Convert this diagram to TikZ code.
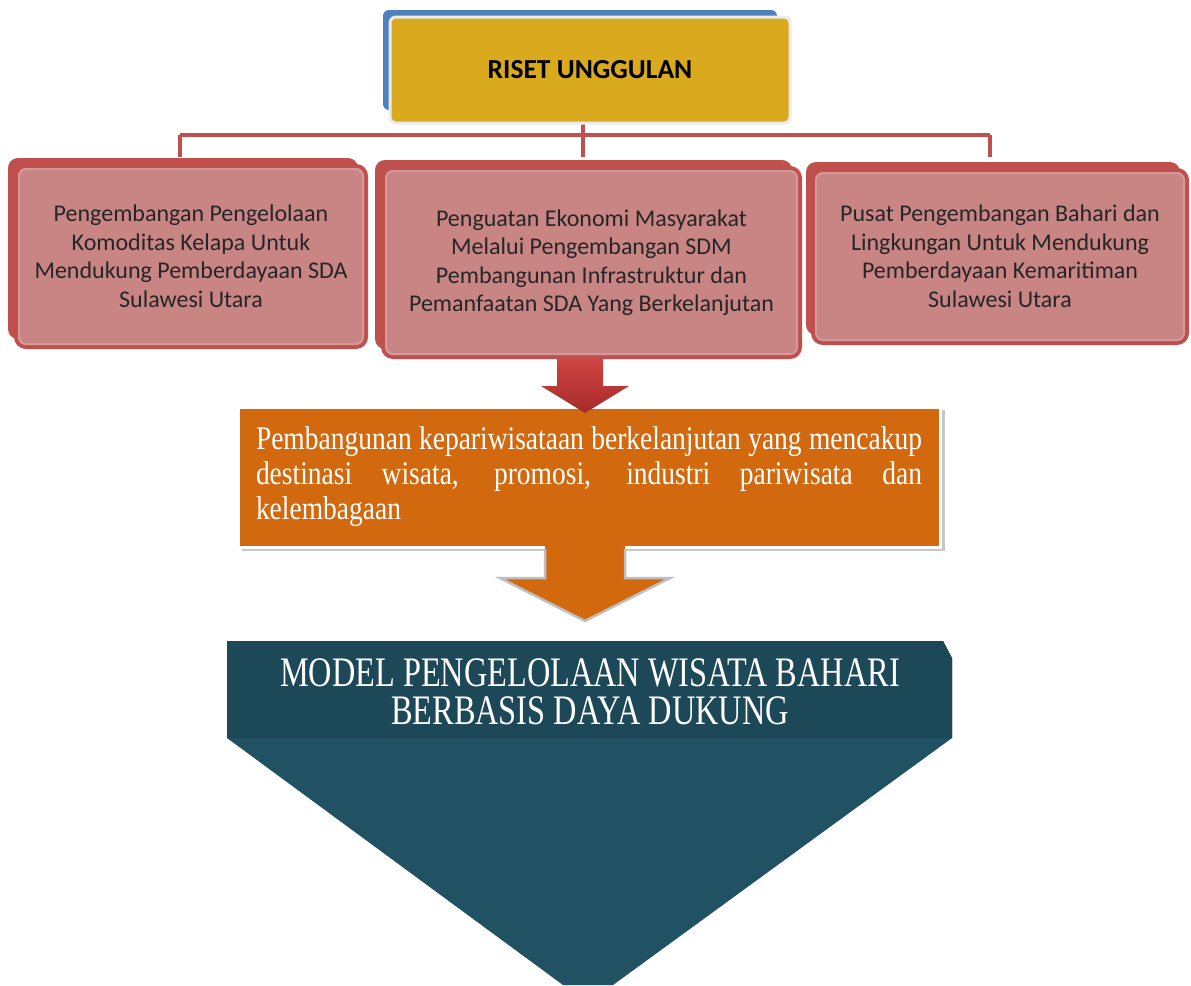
\documentclass[tikz,border=0pt]{standalone}
\usepackage{fontspec}
\setmainfont{Liberation Serif}
\newfontfamily\calfont{Carlito}
\newfontfamily\tnrO[FakeStretch=0.833]{Liberation Serif}
\newfontfamily\tnrT[FakeStretch=0.77]{Liberation Serif}
\usetikzlibrary{calc}
\definecolor{rframe}{HTML}{C0504D}
\definecolor{rfill}{HTML}{C98484}
\definecolor{rinner}{HTML}{D49A9A}
\definecolor{ygold}{HTML}{DAAA1E}
\definecolor{bblue}{HTML}{4F81BD}
\definecolor{orng}{HTML}{D3690F}
\definecolor{tealA}{HTML}{1D4858}
\definecolor{tealB}{HTML}{215263}
\definecolor{arrtop}{HTML}{D04440}
\definecolor{arrbot}{HTML}{A52B2B}
\tikzset{
  conn/.style={draw=rframe, line width=4pt},
  redbox/.style={draw=rframe, line width=4pt, fill=rfill, rounded corners=10pt, align=center,
     font=\calfont\fontsize{24}{28.5}\selectfont, text=black!85, inner sep=0pt},
  redback/.style={fill=rframe, rounded corners=10pt},
  redinner/.style={draw=rinner, line width=2pt, rounded corners=7pt},
}
\begin{document}
\begin{tikzpicture}[x=1pt,y=-1pt]
\useasboundingbox[fill=white] (0,0) rectangle (1191,985);

% connectors
\coordinate (j) at (583,135);
\coordinate (d1) at (180,135);
\coordinate (d3) at (990,135);
\draw[conn] (d1) -- (d3);
\draw[conn] (j) -- ++(0,-14) coordinate (jt);
\draw[conn] (j) -- ++(0,22);
\draw[conn] (d1) -- ++(0,22);
\draw[conn] (d3) -- ++(0,22);

% top box
\fill[bblue, rounded corners=6pt] (383,10) rectangle (777,110);
\node[draw=black!8, line width=3pt, fill=ygold, rounded corners=6pt, minimum width=400pt, minimum height=106pt,
      font=\calfont\bfseries\fontsize{27.5}{32}\selectfont] (top) at (590,70) {RISET UNGGULAN};

% three boxes
\fill[redback] (8,158) rectangle (358,339);
\node[redbox, minimum width=350pt, minimum height=181pt] (b1) at (191,256.5)
  {Pengembangan Pengelolaan\\Komoditas Kelapa Untuk\\Mendukung Pemberdayaan SDA\\Sulawesi Utara};
\draw[redinner] ($(b1.north west)+(5,5)$) rectangle ($(b1.south east)+(-5,-5)$);

\fill[redback] (375,160) rectangle (792,349);
\node[redbox, minimum width=417pt, minimum height=189pt] (b2) at (591.5,262.5)
  {Penguatan Ekonomi Masyarakat\\Melalui Pengembangan SDM\\Pembangunan Infrastruktur dan\\Pemanfaatan SDA Yang Berkelanjutan};
\draw[redinner] ($(b2.north west)+(5,5)$) rectangle ($(b2.south east)+(-5,-5)$);

\fill[redback] (806,162) rectangle (1180,335);
\node[redbox, minimum width=374pt, minimum height=173pt] (b3) at (1000,256.5)
  {Pusat Pengembangan Bahari dan\\Lingkungan Untuk Mendukung\\Pemberdayaan Kemaritiman\\Sulawesi Utara};
\draw[redinner] ($(b3.north west)+(5,5)$) rectangle ($(b3.south east)+(-5,-5)$);

% orange box
\fill[black!22] (242,410) rectangle (945,551);
\node[fill=orng, draw=white, line width=3pt, minimum width=702pt, minimum height=140pt, text width=666pt,
      align=justify, text=white, inner sep=0pt, font=\tnrO\fontsize{33}{35}\selectfont] (ob) at (589,477)
  {Pembangunan kepariwisataan berkelanjutan yang mencakup\linebreak destinasi wisata, promosi, industri pariwisata dan\linebreak kelembagaan};

% red arrow (from b2 to ob)
\shade[top color=arrtop, bottom color=arrbot]
  (557,359) -- (603,359) -- (603,386) -- (629,386) -- (585,413) -- (541,386) -- (557,386) -- cycle;

% orange arrow (from ob to model)
\fill[orng] (545,545) -- (545,578) -- (500,578) -- (585,621) -- (670,578) -- (625,578) -- (625,545) -- cycle;
\draw[black!25, line width=2.5pt, line join=miter] (545,549) -- (545,578) -- (500,578) -- (585,621) -- (670,578) -- (625,578) -- (625,549);

% teal shape
\fill[tealB] (227,641) -- (943,641) -- (952,658) -- (952,738) -- (613,985) -- (563,985) -- (227,738) -- cycle;
\fill[tealA] (227,641) -- (943,641) -- (952,658) -- (952,738) -- (227,738) -- cycle;
\node[text=white, align=center, font=\tnrT\fontsize{42}{38}\selectfont] (model) at (590,692)
  {MODEL PENGELOLAAN WISATA BAHARI\\BERBASIS DAYA DUKUNG};
\end{tikzpicture}
\end{document}
